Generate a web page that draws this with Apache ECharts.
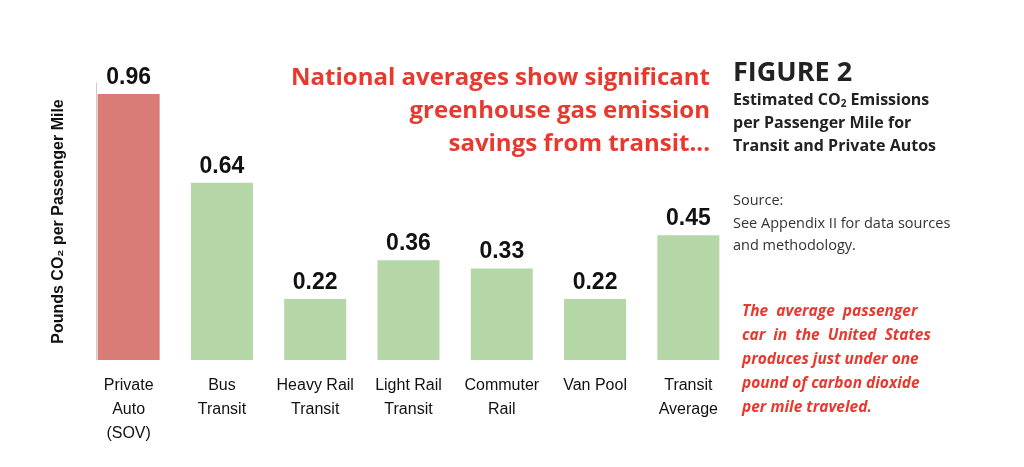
<!DOCTYPE html><html><head><meta charset="utf-8"><script src="https://cdn.jsdelivr.net/npm/echarts@6/dist/echarts.min.js"></script>
<style>body{margin:0;background:#fff}#c{width:1024px;height:467px}</style></head><body><div id="c"></div><script>
const categories=['Private\nAuto\n(SOV)','Bus\nTransit','Heavy Rail\nTransit','Light Rail\nTransit','Commuter\nRail','Van Pool','Transit\nAverage'];
const values=[0.96,0.64,0.22,0.36,0.33,0.22,0.45];
const colors=['#d97b76','#b5d6a7','#b5d6a7','#b5d6a7','#b5d6a7','#b5d6a7','#b5d6a7'];
const c=echarts.init(document.getElementById('c'));
const red='#e8392f',F='"Open Sans", sans-serif';
c.setOption({animation:false,
grid:{left:82,top:83,width:653,bottom:107},
xAxis:{type:'category',data:categories,axisLine:{show:false},axisTick:{show:false},
 axisLabel:{interval:0,color:'#111',fontSize:16,fontFamily:'Liberation Sans, Arial',lineHeight:24,margin:14}},
yAxis:{type:'value',min:0,max:1,offset:-14,axisLine:{show:true,lineStyle:{color:'#ccc'}},axisTick:{show:false},axisLabel:{show:false},splitLine:{show:false},
 name:'Pounds CO₂ per Passenger Mile',nameLocation:'middle',nameGap:29,nameTextStyle:{fontSize:16,fontWeight:'bold',color:'#111',fontFamily:'Liberation Sans, Arial'}},
series:[{type:'bar',barWidth:62,data:values.map((v,i)=>({value:v,itemStyle:{color:colors[i]}})),
 label:{show:true,position:'top',distance:5,fontSize:23,fontWeight:'bold',color:'#111',fontFamily:'Liberation Sans, Arial',formatter:p=>p.value.toFixed(2)}}],
graphic:[
 {type:'text',x:710,y:62,style:{text:'National averages show significant\ngreenhouse gas emission\nsavings from transit...',textAlign:'right',fill:red,font:'bold 24px '+F,lineHeight:33}},
 {type:'text',left:733,top:60,style:{text:'FIGURE 2',fill:'#222',font:'bold 27px '+F}},
 {type:'text',left:733,top:92,style:{rich:{a:{fill:'#222',font:'bold 16px '+F,lineHeight:23},s:{fill:'#222',font:'bold 10px '+F,padding:[8,0,0,0]}},text:'{a|Estimated CO}{s|2}{a| Emissions}\n{a|per Passenger Mile for}\n{a|Transit and Private Autos}'}},
 {type:'text',left:733,top:190,style:{text:'Source:\nSee Appendix II for data sources\nand methodology.',fill:'#333',font:'14.5px '+F,lineHeight:22.5}},
 {type:'text',left:742,top:300,style:{text:'The  average  passenger\ncar  in  the  United  States\nproduces just under one\npound of carbon dioxide\nper mile traveled.',fill:red,font:'italic bold 15.5px '+F,lineHeight:24}}
]});
</script></body></html>
